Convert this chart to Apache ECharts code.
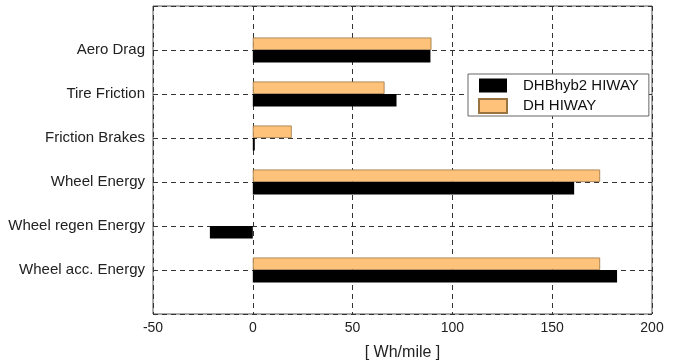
<!DOCTYPE html>
<html>
<head>
<meta charset="utf-8">
<script src="https://cdn.jsdelivr.net/npm/echarts@6/dist/echarts.min.js"></script>
<style>
  html, body { margin: 0; padding: 0; background: #fff; }
  #chart { width: 674px; height: 363px; }
</style>
</head>
<body>
<div id="chart"></div>
<script>
    // empty slots at both ends so the categories sit one step in from the frame
    var categories = ['', 'Aero Drag', 'Tire Friction', 'Friction Brakes', 'Wheel Energy', 'Wheel regen Energy', 'Wheel acc. Energy', ''];
    var hybValues = ['-', 89, 72, 1, 161, -21.5, 182.5, '-'];
    var dhValues = ['-', 89.5, 66, 19.5, 174, '-', 174, '-'];
    var xTicks = [-50, 0, 50, 100, 150, 200];

    var font = 'Liberation Sans, Arial, Helvetica, sans-serif';

    var chartOption = {
        animation: false,
        textStyle: { fontFamily: font },
        grid: {
            left: 153, right: 22, top: 6, bottom: 49,
            outerBoundsMode: 'none',
            containLabel: false,
            show: true, borderColor: '#555', borderWidth: 1
        },
        legend: {
            orient: 'vertical',
            left: 468, top: 74,
            padding: [4, 10, 2, 10],
            itemWidth: 28, itemHeight: 14, itemGap: 5,
            icon: 'rect',
            backgroundColor: '#fff',
            borderColor: '#666', borderWidth: 1,
            borderRadius: 0,
            data: ['DHBhyb2 HIWAY', 'DH HIWAY'],
            textStyle: { fontSize: 15, color: '#111', padding: [0, 0, 0, 11] }
        },
        xAxis: {
            type: 'value',
            min: xTicks[0],
            max: xTicks[xTicks.length - 1],
            interval: 50,
            axisLine: { show: false },
            axisTick: { show: false },
            axisLabel: { fontSize: 14, color: '#222', margin: 7 },
            splitLine: { show: true, lineStyle: { color: '#333', type: [5, 4], width: 1 } },
            name: '[ Wh/mile ]',
            nameLocation: 'middle',
            nameGap: 31,
            nameTextStyle: { fontSize: 16, color: '#222' }
        },
        yAxis: {
            type: 'category',
            data: categories,
            inverse: true,
            boundaryGap: false,
            axisLine: { show: false },
            axisTick: { show: false },
            axisLabel: { fontSize: 15, color: '#222', margin: 8, interval: 0 },
            splitLine: { show: true, interval: 0, lineStyle: { color: '#333', type: [5, 4], width: 1 } }
        },
        series: [
            {
                name: 'DH HIWAY',
                type: 'bar',
                data: dhValues,
                barWidth: 12.5,
                barGap: 0,
                itemStyle: { color: '#ffc27a', borderColor: '#9a7440', borderWidth: 0.8 }
            },
            {
                name: 'DHBhyb2 HIWAY',
                type: 'bar',
                data: hybValues,
                barWidth: 12.5,
                barGap: 0,
                itemStyle: { color: '#000' }
            }
        ]
    };

    var myChart = echarts.init(document.getElementById('chart'));
    myChart.setOption(chartOption);
</script>
</body>
</html>
